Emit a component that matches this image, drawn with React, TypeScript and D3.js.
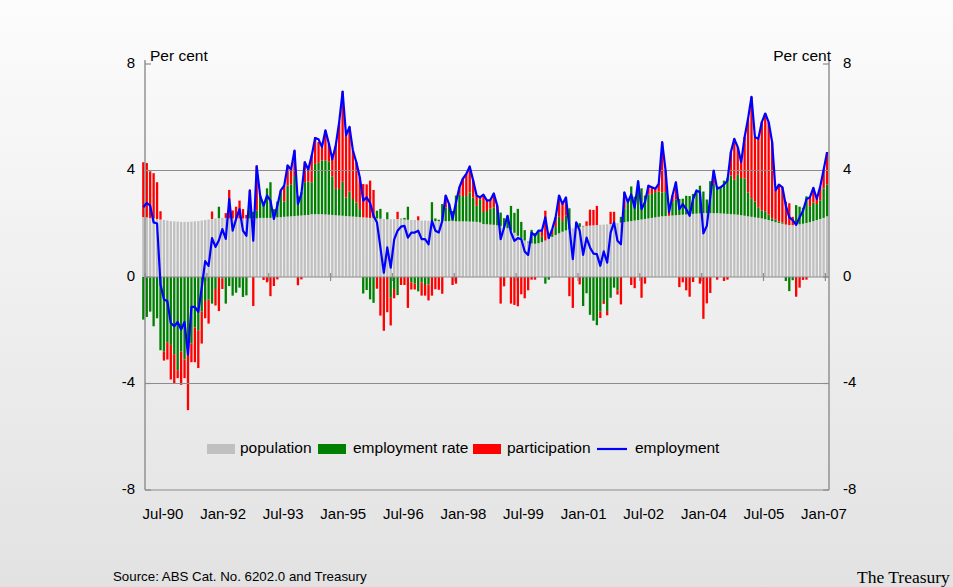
import React from 'react';
import * as d3 from 'd3';

const W = 953;
const H = 587;

// Contributions to employment growth, per cent (Jul-90 .. Feb-07, monthly)
const population = [
  2.25, 2.24, 2.22, 2.20, 2.18, 2.16, 2.14, 2.12, 2.10, 2.09,
  2.08, 2.07, 2.07, 2.07, 2.08, 2.09, 2.10, 2.12, 2.14, 2.16,
  2.18, 2.20, 2.21, 2.22, 2.22, 2.20, 2.20, 2.20, 2.20, 2.20,
  2.20, 2.20, 2.20, 2.20, 2.22, 2.22, 2.22, 2.22, 2.23, 2.24,
  2.25, 2.26, 2.27, 2.28, 2.29, 2.30, 2.31, 2.32, 2.33, 2.36,
  2.36, 2.36, 2.36, 2.35, 2.34, 2.33, 2.32, 2.31, 2.30, 2.29,
  2.28, 2.27, 2.26, 2.25, 2.24, 2.23, 2.22, 2.21, 2.20, 2.19,
  2.18, 2.17, 2.17, 2.17, 2.18, 2.17, 2.16, 2.15, 2.14, 2.14,
  2.13, 2.12, 2.12, 2.11, 2.11, 2.10, 2.10, 2.10, 2.10, 2.10,
  2.10, 2.09, 2.09, 2.09, 2.09, 2.08, 2.08, 2.07, 2.05, 1.99,
  1.98, 1.97, 1.96, 1.94, 1.92, 1.88, 1.83, 1.76, 1.66, 1.55,
  1.45, 1.37, 1.30, 1.26, 1.25, 1.27, 1.31, 1.37, 1.44, 1.51,
  1.58, 1.64, 1.70, 1.75, 1.80, 1.83, 1.86, 1.88, 1.90, 1.92,
  1.93, 1.94, 1.95, 1.96, 1.97, 1.98, 1.99, 2.00, 2.02, 2.04,
  2.06, 2.08, 2.10, 2.12, 2.14, 2.16, 2.18, 2.20, 2.22, 2.24,
  2.26, 2.28, 2.29, 2.30, 2.31, 2.32, 2.33, 2.34, 2.35, 2.36,
  2.37, 2.38, 2.39, 2.40, 2.40, 2.40, 2.40, 2.40, 2.39, 2.38,
  2.37, 2.36, 2.35, 2.34, 2.32, 2.30, 2.28, 2.26, 2.24, 2.22,
  2.20, 2.17, 2.14, 2.10, 2.06, 2.03, 2.00, 1.97, 1.95, 1.95,
  1.96, 1.98, 2.00, 2.03, 2.06, 2.10, 2.14, 2.18, 2.22, 2.28,
];

const employmentRate = [
  -1.60, -1.50, -1.30, -1.85, -1.55, -2.75, -2.80, -2.45, -2.55, -2.90,
  -3.50, -2.80, -3.10, -2.40, -2.50, -1.90, -2.00, -1.30, -0.90, -0.85,
  -1.00, -0.45, 0.43, -0.05, -1.00, -0.34, -0.70, -0.59, -0.40, -0.75,
  -0.69, 0.73, 0.25, 0.29, 0.84, 0.57, 1.11, 1.34, 0.32, 0.59,
  0.93, 0.57, 1.16, 1.20, 1.50, 0.75, 0.87, 1.24, 1.25, 1.20,
  1.89, 1.93, 2.02, 2.03, 2.00, 1.45, 0.99, 1.00, 1.28, 0.70,
  0.93, 0.66, 0.54, 0.30, -0.62, -0.49, -0.84, -0.97, 0.29, 0.37,
  0.00, 0.26, -0.78, -0.45, -0.68, 0.02, 0.06, 0.49, -0.20, -0.25,
  -0.54, -0.20, -0.30, -0.28, 0.70, 0.10, 0.05, 0.64, 0.51, 0.64,
  0.38, 0.97, 1.00, 0.95, 0.95, 1.10, 0.90, 0.60, 0.85, 0.45,
  0.50, 0.60, 0.66, 0.50, 0.50, 0.33, 0.47, 0.91, 0.75, 1.01,
  0.62, 0.39, 0.03, 0.51, 0.40, 0.47, 0.20, -0.25, -0.10, 0.10,
  0.30, 0.62, 0.40, 0.55, 0.78, -0.03, 0.00, 0.14, -1.09, -0.61,
  -1.42, -1.64, -1.81, -1.30, -0.90, -1.28, -0.78, -0.40, -0.50, 0.22,
  0.50, 0.73, 1.30, 0.90, 1.46, 1.17, 0.88, 0.90, 0.90, 0.95,
  0.95, 0.90, 0.90, 0.00, 0.50, 0.60, 0.60, 0.60, 0.70, 0.68,
  0.75, 0.87, 1.04, 0.81, 0.51, 1.20, 1.10, 1.01, 0.98, 1.24,
  1.35, 1.45, 1.30, 1.50, 1.40, 1.40, 0.90, 0.70, 0.60, 0.40,
  0.30, 0.30, 0.20, 0.10, 0.10, 0.05, 0.05, -0.15, -0.53, -0.12,
  0.74, 0.66, 0.60, 1.00, 0.60, 0.70, 0.60, 0.70, 1.10, 1.20,
];

const participation = [
  2.06, 2.04, 1.75, 1.70, 1.38, 0.31, -0.34, -0.65, -1.30, -1.10,
  -0.30, -1.25, -0.70, -2.60, -0.70, -1.30, -1.42, -1.20, -0.65, -0.90,
  0.28, -0.62, -1.28, -0.40, 0.18, 1.07, 0.30, 0.44, 0.67, 0.35,
  0.13, 0.34, -1.09, 1.70, 0.00, -0.11, -0.20, -0.72, -0.34, -0.09,
  0.07, 0.60, 0.77, 0.60, 0.96, -0.31, -0.09, 0.78, 0.50, 1.01,
  1.01, 0.78, 0.50, 1.12, 0.67, 0.65, 1.63, 2.51, 3.40, 2.35,
  2.43, 1.82, 1.51, 1.20, 1.25, 1.25, 1.40, 1.06, -0.44, -1.45,
  -2.02, -1.32, -1.04, -0.35, 0.27, -0.30, -0.30, -1.16, -0.27, -0.22,
  0.15, -0.50, -0.40, -0.60, -0.70, -0.46, -0.48, -0.63, 0.45, 0.00,
  -0.30, -0.25, 0.28, 0.65, 0.83, 0.97, 0.64, 0.39, 0.09, 0.65,
  0.39, 0.32, 0.52, 0.24, -1.00, -0.35, 0.00, -1.00, -1.05, -1.10,
  -0.65, -0.80, -0.50, -0.10, -0.10, 0.00, 0.23, 1.12, 0.12, 0.19,
  0.36, 0.80, 0.64, 0.69, -0.72, -1.13, 0.19, -0.28, 0.02, 0.17,
  0.60, 0.58, 0.72, -0.24, -0.11, -0.16, 0.46, 0.45, -0.16, -1.03,
  0.62, 0.00, -0.30, -0.42, 0.00, -0.78, -0.25, 0.33, 0.25, 0.12,
  0.29, 1.89, 0.81, 0.13, 0.25, 0.64, -0.38, -0.20, -0.50, -0.74,
  -0.19, 0.00, -0.25, -1.57, -0.99, -0.60, 0.50, -0.10, 0.00, -0.15,
  -0.10, 0.88, 1.54, 1.04, 0.59, 1.56, 2.77, 3.81, 2.42, 2.57,
  3.32, 3.67, 3.48, 2.87, 1.09, 1.39, 1.32, 0.86, 0.82, 0.31,
  -0.74, -0.40, -0.11, -0.10, 0.33, 0.55, 0.19, 0.52, 0.71, 1.21,
];

const employment = [
  2.62, 2.78, 2.68, 2.05, 2.01, -0.28, -0.84, -0.91, -1.73, -1.85,
  -1.69, -1.97, -1.69, -2.92, -1.12, -1.12, -1.31, -0.40, 0.60, 0.42,
  1.46, 1.13, 1.38, 1.80, 1.43, 2.93, 1.74, 2.18, 2.55, 1.74,
  1.55, 3.25, 1.36, 4.16, 3.06, 2.68, 3.06, 2.87, 2.18, 2.68,
  3.25, 3.43, 4.19, 4.04, 4.75, 2.74, 3.12, 4.31, 4.04, 4.55,
  5.22, 5.17, 4.88, 5.51, 5.01, 4.42, 4.94, 5.82, 6.96, 5.32,
  5.64, 4.75, 4.31, 3.75, 2.87, 2.99, 2.78, 2.30, 2.05, 1.11,
  0.16, 1.11, 0.35, 1.40, 1.74, 1.89, 1.92, 1.48, 1.67, 1.67,
  1.74, 1.42, 1.42, 1.23, 2.11, 1.74, 1.67, 2.11, 3.06, 2.74,
  2.18, 2.81, 3.37, 3.69, 3.87, 4.15, 3.62, 3.06, 2.99, 3.09,
  2.87, 2.89, 3.14, 2.68, 1.42, 1.86, 2.30, 1.67, 1.36, 1.46,
  1.42, 0.96, 0.83, 1.67, 1.55, 1.74, 1.74, 2.24, 1.46, 1.80,
  2.24, 3.06, 2.74, 2.99, 1.86, 0.67, 2.05, 1.74, 0.83, 1.48,
  1.11, 0.88, 0.86, 0.42, 0.96, 0.54, 1.67, 2.05, 1.36, 1.23,
  3.18, 2.81, 3.10, 2.60, 3.60, 2.55, 2.81, 3.43, 3.37, 3.31,
  3.50, 5.07, 4.00, 2.43, 3.06, 3.56, 2.55, 2.74, 2.55, 2.30,
  2.93, 3.25, 3.18, 1.64, 1.92, 3.00, 4.00, 3.31, 3.37, 3.47,
  3.62, 4.69, 5.19, 4.88, 4.31, 5.26, 5.95, 6.77, 5.26, 5.19,
  5.82, 6.14, 5.82, 5.07, 3.25, 3.47, 3.37, 2.68, 2.24, 2.14,
  1.96, 2.24, 2.49, 2.93, 2.99, 3.35, 2.93, 3.40, 4.03, 4.69,
];

const tickLabels = ['Jul-90', 'Jan-92', 'Jul-93', 'Jan-95', 'Jul-96', 'Jan-98', 'Jul-99', 'Jan-01', 'Jul-02', 'Jan-04', 'Jul-05', 'Jan-07'];
const yTicks = [8, 4, 0, -4, -8];
const seriesKeys = ['pop', 'er', 'part'];
const seriesColors: Record<string, string> = { pop: '#c0c0c0', er: '#008000', part: '#ff0000' };
const lineColor = '#0000ff';

const FONT = 'Arial, "Liberation Sans", Helvetica, sans-serif';

export default function App() {
  const months = d3.timeMonths(new Date(1990, 6, 1), new Date(2007, 2, 1));
  const rows = months.map((m, i) => ({
    month: m,
    pop: population[i],
    er: employmentRate[i],
    part: participation[i],
  }));

  const left = 145;
  const right = 829;
  const x = d3.scaleBand<Date>().domain(months).range([141.6, 828.8]).padding(0);
  const y = d3.scaleLinear().domain([-8, 8]).range([490, 64]);
  const stacked = d3.stack<any>().keys(seriesKeys).offset(d3.stackOffsetDiverging)(rows);
  const barW = 2.3;
  const cx = (m: Date) => (x(m) ?? 0) + x.step() / 2;

  const line = d3
    .line<number>()
    .x((_, i) => cx(months[i]))
    .y((v) => y(v));

  const labelX = d3.scaleLinear().domain([0, tickLabels.length - 1]).range([163, 824]);
  const tickXs = tickLabels.map((_, k) => (x(months[18 * k]) ?? 0) + x.step());

  const gridColor = '#8c8c8c';

  const legendY = 449;
  const legend = [
    { type: 'rect', color: seriesColors.pop, x: 207, label: 'population', tx: 240 },
    { type: 'rect', color: seriesColors.er, x: 318, label: 'employment rate', tx: 353 },
    { type: 'rect', color: seriesColors.part, x: 473, label: 'participation', tx: 507 },
    { type: 'line', color: lineColor, x: 597, label: 'employment', tx: 635 },
  ];

  return (
    <svg
      width={W}
      height={H}
      style={{ position: 'absolute', left: 0, top: 0, display: 'block' }}
      xmlns="http://www.w3.org/2000/svg"
    >
      <defs>
        <linearGradient id="bg" x1="0" y1="0" x2="0" y2="1">
          <stop offset="0" stopColor="#fcfcfc" />
          <stop offset="1" stopColor="#e2e2e2" />
        </linearGradient>
      </defs>
      <rect x={0} y={0} width={W} height={H} fill="url(#bg)" />

      {/* bars */}
      {stacked.map((s) => (
        <g key={s.key} fill={seriesColors[s.key]}>
          {s.map((d, i) => {
            const y0 = y(d[0]);
            const y1 = y(d[1]);
            const h = Math.abs(y0 - y1);
            if (h < 0.01) return null;
            return (
              <rect
                key={i}
                x={cx(months[i]) - barW / 2}
                y={Math.min(y0, y1)}
                width={barW}
                height={h}
              />
            );
          })}
        </g>
      ))}

      {/* grid lines */}
      {[4, 0, -4, -8].map((v) => (
        <line key={v} x1={left} x2={right} y1={y(v)} y2={y(v)} stroke={gridColor} strokeWidth={1.2} />
      ))}
      {/* axes */}
      <line x1={left} x2={left} y1={60} y2={y(-8)} stroke={gridColor} strokeWidth={1.4} />
      <line x1={right} x2={right} y1={60} y2={y(-8)} stroke={gridColor} strokeWidth={1.4} />
      {yTicks.map((v) => (
        <g key={'t' + v}>
          <line x1={left} x2={left + 6} y1={y(v)} y2={y(v)} stroke={gridColor} strokeWidth={1.2} />
          <line x1={right - 6} x2={right} y1={y(v)} y2={y(v)} stroke={gridColor} strokeWidth={1.2} />
        </g>
      ))}
      {tickXs.map((tx, k) => (
        <line key={'xt' + k} x1={tx} x2={tx} y1={y(0) - 4} y2={y(0) + 4} stroke={gridColor} strokeWidth={1.2} />
      ))}

      {/* employment line */}
      <path d={line(employment) ?? ''} fill="none" stroke={lineColor} strokeWidth={2.2} strokeLinejoin="round" />

      {/* y labels */}
      {yTicks.map((v) => (
        <g key={'l' + v} fontFamily={FONT} fontSize={15} fill="#000">
          <text x={135} y={y(v)} textAnchor="end" dominantBaseline="middle">
            {v}
          </text>
          <text x={843} y={y(v)} textAnchor="start" dominantBaseline="middle">
            {v}
          </text>
        </g>
      ))}
      <text x={150} y={61} fontFamily={FONT} fontSize={15.5} fill="#000">
        Per cent
      </text>
      <text x={831} y={61} fontFamily={FONT} fontSize={15.5} fill="#000" textAnchor="end">
        Per cent
      </text>

      {/* x labels */}
      {tickLabels.map((t, k) => (
        <text key={t} x={labelX(k)} y={519} fontFamily={FONT} fontSize={15} textAnchor="middle" fill="#000">
          {t}
        </text>
      ))}

      {/* legend */}
      {legend.map((l) => (
        <g key={l.label}>
          {l.type === 'rect' ? (
            <rect x={l.x} y={legendY - 5} width={28} height={10} fill={l.color} />
          ) : (
            <line x1={l.x} x2={l.x + 30} y1={legendY} y2={legendY} stroke={l.color} strokeWidth={2.2} />
          )}
          <text x={l.tx} y={legendY} dominantBaseline="middle" fontFamily={FONT} fontSize={15.5} fill="#000">
            {l.label}
          </text>
        </g>
      ))}

      {/* footer */}
      <text x={113} y={581} fontFamily={FONT} fontSize={13.3} fill="#000">
        Source: ABS Cat. No. 6202.0 and Treasury
      </text>
      <text x={857} y={583} fontFamily={'"Times New Roman", "Liberation Serif", serif'} fontSize={17.5} fill="#000">
        The Treasury
      </text>
    </svg>
  );
}
